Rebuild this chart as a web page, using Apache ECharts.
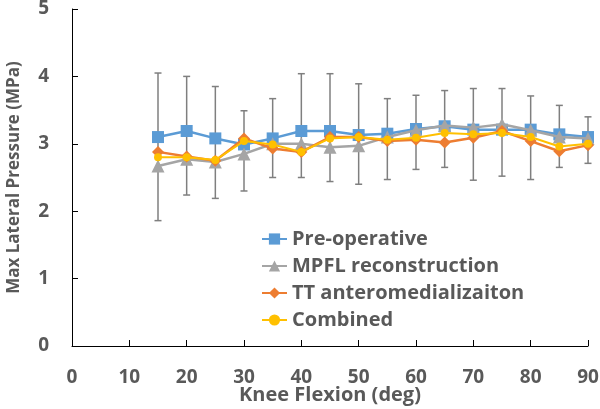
<!DOCTYPE html>
<html><head><meta charset="utf-8">
<script src="https://cdn.jsdelivr.net/npm/echarts@6/dist/echarts.min.js"></script>
<style>html,body{margin:0;padding:0;background:#fff}#c{width:600px;height:409px}</style>
</head><body><div id="c"></div>
<script>
const flexion = [15,20,25,30,35,40,45,50,55,60,65,70,75,80,85,90];
const preOperative = [3.10,3.19,3.08,2.99,3.08,3.19,3.19,3.13,3.15,3.22,3.26,3.21,3.21,3.21,3.14,3.10];
const mpflReconstruction = [2.67,2.77,2.73,2.85,3.00,3.00,2.95,2.97,3.10,3.20,3.27,3.24,3.29,3.20,3.10,3.08];
const ttAnteromedialization = [2.88,2.81,2.75,3.08,2.93,2.88,3.10,3.10,3.04,3.06,3.02,3.09,3.19,3.04,2.89,2.98];
const combined = [2.80,2.80,2.76,3.04,2.99,2.88,3.08,3.10,3.06,3.09,3.16,3.14,3.16,3.10,2.96,3.00];
const errLow = [1.86,2.24,2.19,2.30,2.50,2.50,2.44,2.40,2.47,2.62,2.65,2.46,2.52,2.47,2.65,2.71];
const errHigh = [4.05,4.00,3.85,3.49,3.67,4.04,4.04,3.89,3.67,3.72,3.79,3.82,3.82,3.71,3.57,3.40];
const xTicks = [0,10,20,30,40,50,60,70,80,90];
const yTicks = [0,1,2,3,4,5];

const FONT = 'Open Sans';
const TXT = '#595959';
const pair = (ys) => flexion.map((x,i)=>[x, ys[i]]);

const chart = echarts.init(document.getElementById('c'), null, {renderer:'canvas'});
chart.setOption({
  animation:false,
  grid:{left:72, right:12, top:9, bottom:63, containLabel:false, outerBoundsMode:'none'},
  xAxis:{type:'value', min:xTicks[0], max:xTicks[xTicks.length-1], interval:10,
    name:'Knee Flexion (deg)', nameLocation:'middle', nameGap:39, nameMoveOverlap:false,
    nameTextStyle:{fontFamily:FONT, fontWeight:'bold', fontSize:20, color:TXT},
    axisLine:{lineStyle:{color:'#000', width:1}},
    axisTick:{inside:true, length:6, lineStyle:{color:'#000'}},
    axisLabel:{fontFamily:FONT, fontWeight:'bold', fontSize:19, color:TXT, margin:22},
    splitLine:{show:false}},
  yAxis:{type:'value', min:yTicks[0], max:yTicks[yTicks.length-1], interval:1,
    name:'Max Lateral Pressure (MPa)', nameLocation:'middle', nameGap:49, nameRotate:90, nameMoveOverlap:false,
    nameTextStyle:{fontFamily:FONT, fontWeight:'bold', fontSize:17, color:TXT},
    axisLine:{show:true, lineStyle:{color:'#000', width:1}},
    axisTick:{show:true, inside:true, length:6, lineStyle:{color:'#000'}},
    axisLabel:{fontFamily:FONT, fontWeight:'bold', fontSize:19, color:TXT, margin:23},
    splitLine:{show:false}},
  legend:{orient:'vertical', left:261, top:229, itemWidth:25, itemHeight:14, itemGap:7, padding:0,
    textStyle:{fontFamily:FONT, fontWeight:'bold', fontSize:20, color:TXT, lineHeight:17},
    data:['Pre-operative','MPFL reconstruction','TT anteromedializaiton','Combined']},
  series:[
    {type:'custom', name:'err', z:1, silent:true,
      data: flexion.map((x,i)=>[x, errLow[i], errHigh[i]]),
      renderItem:(params, api)=>{
        const lo = api.coord([api.value(0), api.value(1)]);
        const hi = api.coord([api.value(0), api.value(2)]);
        const w = 3.5;
        const st = {stroke:'#7f7f7f', lineWidth:1.5};
        return {type:'group', children:[
          {type:'line', shape:{x1:lo[0],y1:lo[1],x2:hi[0],y2:hi[1]}, style:st},
          {type:'line', shape:{x1:lo[0]-w,y1:lo[1],x2:lo[0]+w,y2:lo[1]}, style:st},
          {type:'line', shape:{x1:hi[0]-w,y1:hi[1],x2:hi[0]+w,y2:hi[1]}, style:st}
        ]};
      }},
    {type:'line', name:'Pre-operative', z:3, data:pair(preOperative), symbol:'rect', symbolSize:12,
      itemStyle:{color:'#5B9BD5'}, lineStyle:{color:'#5B9BD5', width:2.5}},
    {type:'line', name:'MPFL reconstruction', z:4, data:pair(mpflReconstruction), symbol:'triangle', symbolSize:13,
      itemStyle:{color:'#A5A5A5'}, lineStyle:{color:'#A5A5A5', width:2.5}},
    {type:'line', name:'TT anteromedializaiton', z:5, data:pair(ttAnteromedialization), symbol:'diamond', symbolSize:12,
      itemStyle:{color:'#ED7D31'}, lineStyle:{color:'#ED7D31', width:2.5}},
    {type:'line', name:'Combined', z:6, data:pair(combined), symbol:'circle', symbolSize:8,
      itemStyle:{color:'#FFC000'}, lineStyle:{color:'#FFC000', width:2}}
  ]
});
</script></body></html>
